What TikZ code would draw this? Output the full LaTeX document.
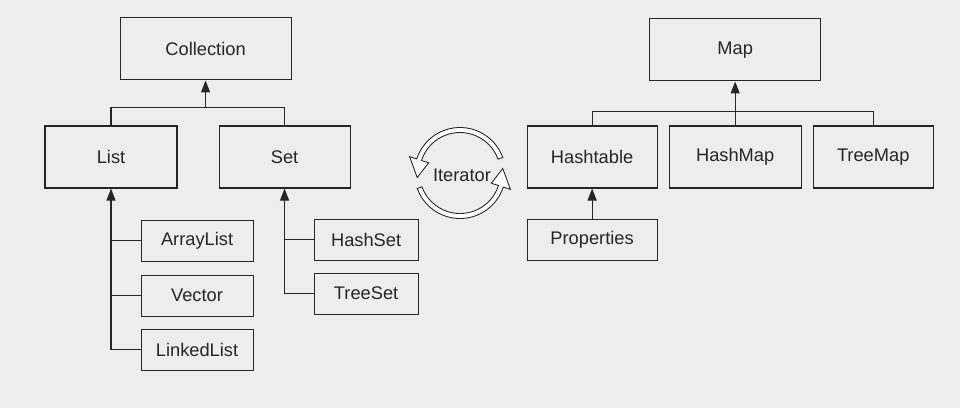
\documentclass[tikz,border=0pt]{standalone}
\usepackage{fontspec}
\setmainfont{Liberation Sans}
\usetikzlibrary{arrows.meta,positioning}

\begin{document}
\begin{tikzpicture}[>={Triangle[length=2.4mm,width=1.8mm]},
	every node/.style={font=\fontsize{10.4}{12}\selectfont, text=black!85},
	bigbox/.style={shape=rectangle, draw=black!85, line width=0.6pt, inner sep=0pt, minimum height=1.24cm},
	leaf/.style={shape=rectangle, draw=black!85, line width=0.6pt, inner sep=0pt, minimum height=0.82cm},
	link/.style={draw=black!85, line width=0.6pt},]
	\fill[black!7] (0,0) rectangle (19.2,-8.16);
	\useasboundingbox (0,0) rectangle (19.2,-8.16);

	% create the nodes
	\node (list)[bigbox, minimum width=2.64cm] at (2.22,-3.14) {List};
	\node (set)[bigbox, minimum width=2.62cm, right = 0.82cm of list] {Set};
	\node (coll)[bigbox, minimum width=3.42cm, above right = 0.9cm and -1.16cm of list] {Collection};
	\node (array)[leaf, minimum width=2.24cm, below right = 0.62cm and -0.74cm of list] {ArrayList};
	\node (vector)[leaf, minimum width=2.24cm, below = 0.26cm of array] {Vector};
	\node (linked)[leaf, minimum width=2.24cm, below = 0.24cm of vector] {LinkedList};
	\node (hashset)[leaf, minimum width=2.08cm, below right = 0.6cm and -0.74cm of set] {HashSet};
	\node (treeset)[leaf, minimum width=2.08cm, below = 0.24cm of hashset] {TreeSet};
	\node (hashtable)[bigbox, minimum width=2.6cm, right = 3.52cm of set] {Hashtable};
	\node (hashmap)[bigbox, minimum width=2.64cm, right = 0.22cm of hashtable] {HashMap};
	\node (treemap)[bigbox, minimum width=2.4cm, right = 0.22cm of hashmap] {TreeMap};
	\node (map)[bigbox, minimum width=3.42cm, above = 0.88cm of hashmap] {Map};
	\node (props)[leaf, minimum width=2.6cm, below = 0.6cm of hashtable] {Properties};
	\node (iter) at (9.24,-3.5) {Iterator};
	\coordinate [below = 0.54cm of coll] (cj);
	\coordinate [below = 0.6cm of map] (mj);
	\coordinate (ring) at (9.2,-3.46);

	% connect the nodes
	\draw[link] (list.north) |- (cj) -| (set.north);
	\draw[link, ->] (cj) -- (coll);
	\draw[link, ->] (linked.west) -| (list.south);
	\draw[link] (array.west) -- (array.west -| list.south);
	\draw[link] (vector.west) -- (vector.west -| list.south);
	\draw[link, ->] (treeset.west) -| (set.south);
	\draw[link] (hashset.west) -- (hashset.west -| set.south);
	\draw[link] (hashtable.north) |- (mj) -| (treemap.north);
	\draw[link, ->] (hashmap.north) -- (map.south);
	\draw[link, ->] (props) -- (hashtable);

	% the two turning arrows round the iterator
	\foreach \rot in {0,180}
		\draw[link, line width=0.5pt, fill=white, shift={(ring)}, rotate=\rot] (20:0.91) arc[start angle=20, end angle=162, radius=0.91] -- (162:1.06) -- (186:0.86) -- (162:0.66) -- (162:0.81) arc[start angle=162, end angle=20, radius=0.81] -- cycle;

\end{tikzpicture}
\end{document}
